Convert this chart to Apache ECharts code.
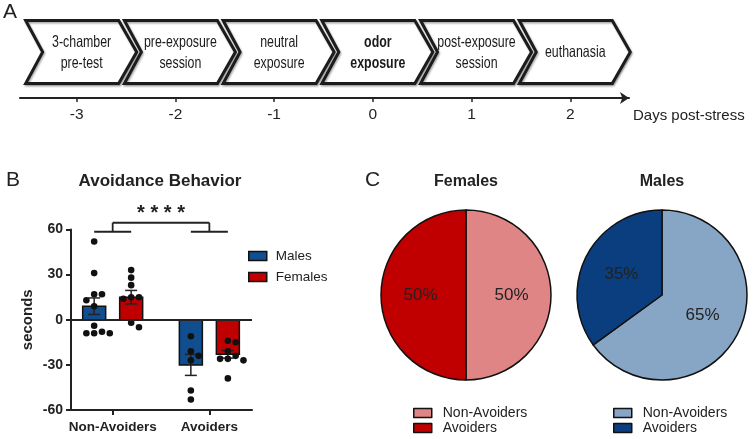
<!DOCTYPE html>
<html><head><meta charset="utf-8">
<script src="https://cdn.jsdelivr.net/npm/echarts@6/dist/echarts.min.js"></script>
<style>html,body{margin:0;padding:0;background:#fff}#c{width:756px;height:439px}</style>
</head><body><div id="c"></div>
<script>
// ---------- Panel A data ----------
const stageDays = [-3, -2, -1, 0, 1, 2];
const stageLabels = ['3-chamber\npre-test', 'pre-exposure\nsession', 'neutral\nexposure', 'odor\nexposure', 'post-exposure\nsession', 'euthanasia'];
const stageBold = [false, false, false, true, false, false];
const dayTicks = [-3, -2, -1, 0, 1, 2];
const dayAxisName = 'Days post-stress';

// ---------- Panel B data ----------
const groups = ['Non-Avoiders', 'Avoiders'];
const sexes = ['Males', 'Females'];
const maleMeans = [9, -30];
const maleSem = [5.5, 7];
const femaleMeans = [15, -23];
const femaleSem = [4.5, 2.5];
const maleNonAvoiderDots = [52, 31, 17, 17, 13, 9, -4, -8, -9, -9, -9];
const maleAvoiderDots = [-11, -21, -24, -27, -47, -53];
const femaleNonAvoiderDots = [33, 28, 23, 15, 15, 14, -2, -5];
const femaleAvoiderDots = [-14, -15, -21, -24, -26, -26, -27, -39];
const yTickMin = -60, yTickMax = 60, yTickStep = 30;
const sigLabel = '* * * *';

// ---------- Panel C data ----------
const pieCategories = ['Non-Avoiders', 'Avoiders'];
const femalePie = [50, 50];
const malePie = [65, 35];

// ---------- styles / layout ----------
const FONT = "'Liberation Sans', Arial, sans-serif";
const INK = '#222';
const MALE_BAR = '#104e8f', FEMALE_BAR = '#c00000';
const FEMALE_PIE_COLORS = ['#e08585', '#c00000'];
const MALE_PIE_COLORS = ['#87a5c5', '#0b3e7e'];
const BAR_OFF = 18.5, BAR_W = 23, CAP_W = 12, DOT_R = 3.3;

const dotsBySex = [[maleNonAvoiderDots, maleAvoiderDots], [femaleNonAvoiderDots, femaleAvoiderDots]];

function swarm(ys) {
  const placed = [];
  const s = DOT_R + 0.6;
  return ys.map(y => {
    let off = 0;
    for (let k = 0; k < 30; k++) {
      const cand = k === 0 ? 0 : (k % 2 ? 1 : -1) * Math.ceil(k / 2) * s;
      const hit = placed.some(p => Math.hypot(p[0] - cand, p[1] - y) < 2 * DOT_R + 0.8);
      if (!hit) { off = cand; break; }
    }
    placed.push([off, y]);
    return off;
  });
}

function barRender(sexIdx, color) {
  return function (params, api) {
    const cat = api.value(0), mean = api.value(1), sem = api.value(2);
    const p0 = api.coord([cat, 0]);
    const p1 = api.coord([cat, mean]);
    const cx = p0[0] + (sexIdx === 0 ? -BAR_OFF : BAR_OFF);
    const ch = [];
    ch.push({ type: 'rect', shape: { x: cx - BAR_W / 2, y: Math.min(p0[1], p1[1]), width: BAR_W, height: Math.abs(p1[1] - p0[1]) },
      style: { fill: color, stroke: '#111', lineWidth: 1.5 } });
    const eLo = api.coord([cat, mean - sem])[1], eHi = api.coord([cat, mean + sem])[1];
    const ls = { stroke: INK, lineWidth: 1.5 };
    ch.push({ type: 'line', shape: { x1: cx, y1: eLo, x2: cx, y2: eHi }, style: ls });
    ch.push({ type: 'line', shape: { x1: cx - CAP_W / 2, y1: eLo, x2: cx + CAP_W / 2, y2: eLo }, style: ls });
    ch.push({ type: 'line', shape: { x1: cx - CAP_W / 2, y1: eHi, x2: cx + CAP_W / 2, y2: eHi }, style: ls });
    const vals = dotsBySex[sexIdx][params.dataIndex];
    const ys = vals.map(v => api.coord([cat, v])[1]);
    const offs = swarm(ys);
    ys.forEach((y, i) => ch.push({ type: 'circle', shape: { cx: cx + offs[i], cy: y, r: DOT_R }, style: { fill: '#111' } }));
    return { type: 'group', children: ch };
  };
}

const chart = echarts.init(document.getElementById('c'), null, { renderer: 'canvas' });
const titleStyle = (size, weight) => ({ fontSize: size, fontWeight: weight, color: INK, fontFamily: FONT });

const option = {
  animation: false,
  textStyle: { fontFamily: FONT },
  title: [
    { text: 'A', left: 3, top: 2, padding: 0, textStyle: titleStyle(21, 'normal') },
    { text: 'B', left: 6, top: 170, padding: 0, textStyle: titleStyle(21, 'normal') },
    { text: 'Avoidance Behavior', left: 160, top: 173, textAlign: 'center', padding: 0, textStyle: titleStyle(17, 'bold') },
    { text: 'C', left: 365, top: 170, padding: 0, textStyle: titleStyle(21, 'normal') },
    { text: 'Females', left: 466, top: 174, textAlign: 'center', padding: 0, textStyle: titleStyle(16, 'bold') },
    { text: 'Males', left: 662, top: 174, textAlign: 'center', padding: 0, textStyle: titleStyle(16, 'bold') }
  ],
  legend: [
    { data: [{ name: 'Males', itemStyle: { color: MALE_BAR } }, { name: 'Females', itemStyle: { color: FEMALE_BAR } }],
      orient: 'vertical', left: 248, top: 249, padding: 0, itemWidth: 18, itemHeight: 9, itemGap: 7, icon: 'rect',
      selectedMode: false, itemStyle: { borderColor: '#111', borderWidth: 1.5 },
      textStyle: { fontSize: 13.5, color: INK, padding: [0, 0, 0, 4] } },
    { data: [{ name: 'Non-Avoiders', itemStyle: { color: FEMALE_PIE_COLORS[0] } }, { name: 'Avoiders', itemStyle: { color: FEMALE_PIE_COLORS[1] } }],
      orient: 'vertical', left: 413, top: 406, padding: 0, itemWidth: 18, itemHeight: 9, itemGap: 1, icon: 'rect',
      selectedMode: false, itemStyle: { borderColor: '#111', borderWidth: 1.5 },
      textStyle: { fontSize: 14, color: INK, padding: [0, 0, 0, 6] } },
    { data: [{ name: 'Non-Avoiders', itemStyle: { color: MALE_PIE_COLORS[0] } }, { name: 'Avoiders', itemStyle: { color: MALE_PIE_COLORS[1] } }],
      orient: 'vertical', left: 613, top: 406, padding: 0, itemWidth: 18, itemHeight: 9, itemGap: 1, icon: 'rect',
      selectedMode: false, itemStyle: { borderColor: '#111', borderWidth: 1.5 },
      textStyle: { fontSize: 14, color: INK, padding: [0, 0, 0, 6] } }
  ],
  grid: [
    { left: 20, top: 20, width: 609, height: 78 },
    { left: 71, top: 229.5, width: 181, height: 180.5 }
  ],
  xAxis: [
    { gridIndex: 0, type: 'value', min: -3.574, max: 2.595,
      axisLine: { show: true, onZero: false, lineStyle: { color: INK, width: 2 }, symbol: ['none', 'arrow'], symbolSize: [9, 9] },
      axisTick: { show: true, customValues: dayTicks, length: 4, lineStyle: { color: INK, width: 1.5 } },
      axisLabel: { customValues: dayTicks, fontSize: 15.5, color: INK, margin: 9 },
      splitLine: { show: false },
      name: dayAxisName, nameLocation: 'end', nameGap: 4,
      nameTextStyle: { fontSize: 15, color: INK, align: 'left', verticalAlign: 'top', padding: [10, 0, 0, 0] } },
    { gridIndex: 1, type: 'value', min: -0.431, max: 1.441,
      axisLine: { show: true, onZero: false, lineStyle: { color: INK, width: 2 } },
      axisTick: { show: true, customValues: [0, 1], length: 5, lineStyle: { color: INK, width: 2 } },
      axisLabel: { customValues: [0, 1], formatter: v => groups[Math.round(v)], fontSize: 13.5, fontWeight: 'bold', color: INK, margin: 10 },
      splitLine: { show: false } }
  ],
  yAxis: [
    { gridIndex: 0, type: 'value', min: 0, max: 1, show: false },
    { gridIndex: 1, type: 'value', min: yTickMin, max: yTickMax, interval: yTickStep,
      axisLine: { show: true, onZero: false, lineStyle: { color: INK, width: 2 } },
      axisTick: { show: true, length: 5, lineStyle: { color: INK, width: 2 } },
      axisLabel: { fontSize: 14, fontWeight: 'bold', color: INK, margin: 8 },
      splitLine: { show: false },
      name: 'seconds', nameLocation: 'middle', nameGap: 36,
      nameTextStyle: { fontSize: 15, fontWeight: 'bold', color: INK } }
  ],
  series: [
    { type: 'custom', name: 'stages', xAxisIndex: 0, yAxisIndex: 0, silent: true, clip: false,
      data: stageDays.map((d, i) => [d, i]),
      renderItem: (params, api) => {
        const i = api.value(1);
        const base = api.coord([api.value(0), 0]);
        const cx = base[0];
        const top = base[1] - 77.5, bot = base[1] - 14.5, mid = (top + bot) / 2;
        const pts = [[cx - 51, top], [cx + 42, top], [cx + 60, mid], [cx + 42, bot], [cx - 51, bot], [cx - 34, mid]];
        return { type: 'group', children: [
          { type: 'polygon', shape: { points: pts },
            style: { fill: '#fff', stroke: '#1c1c1c', lineWidth: 3, lineJoin: 'miter', shadowBlur: 2, shadowColor: 'rgba(0,0,0,0.35)', shadowOffsetX: 1, shadowOffsetY: 1.5 } },
          { type: 'text', x: cx + 5, y: mid + 0.5, scaleX: 0.75,
            style: { text: stageLabels[i], align: 'center', verticalAlign: 'middle', fontFamily: FONT, fontSize: 16.5,
              fontWeight: stageBold[i] ? 'bold' : 'normal', lineHeight: 21, fill: '#1a1a1a' } }
        ] };
      } },
    { type: 'custom', name: 'Males', xAxisIndex: 1, yAxisIndex: 1, silent: true, clip: false,
      itemStyle: { color: MALE_BAR },
      data: groups.map((g, i) => [i, maleMeans[i], maleSem[i]]),
      renderItem: barRender(0, MALE_BAR),
      markLine: { silent: true, symbol: 'none', label: { show: false }, lineStyle: { color: INK, width: 2, type: 'solid' }, data: [{ yAxis: 0 }] } },
    { type: 'custom', name: 'Females', xAxisIndex: 1, yAxisIndex: 1, silent: true, clip: false,
      itemStyle: { color: FEMALE_BAR },
      data: groups.map((g, i) => [i, femaleMeans[i], femaleSem[i]]),
      renderItem: barRender(1, FEMALE_BAR) },
    { type: 'custom', name: 'significance', xAxisIndex: 1, yAxisIndex: 1, silent: true, clip: false,
      data: [[0, 1]],
      renderItem: (params, api) => {
        const g0 = api.value(0), g1 = api.value(1);
        const yLow = api.coord([g0, 58.5])[1], yTop = api.coord([g0, 64.5])[1];
        const ls = { stroke: INK, lineWidth: 1.8 };
        const ch = [];
        const xs = [g0, g1].map(g => api.coord([g, 0])[0]);
        xs.forEach(x => {
          ch.push({ type: 'line', shape: { x1: x - BAR_OFF, y1: yLow, x2: x + BAR_OFF, y2: yLow }, style: ls });
          ch.push({ type: 'line', shape: { x1: x, y1: yLow, x2: x, y2: yTop }, style: ls });
        });
        ch.push({ type: 'line', shape: { x1: xs[0], y1: yTop, x2: xs[1], y2: yTop }, style: ls });
        ch.push({ type: 'text', x: (xs[0] + xs[1]) / 2, y: api.coord([g0, 70.5])[1],
          style: { text: sigLabel, align: 'center', verticalAlign: 'middle', fontFamily: FONT, fontSize: 20, fontWeight: 'bold', fill: INK } });
        return { type: 'group', children: ch };
      } },
    { type: 'pie', name: 'Females pie', center: [466, 295], radius: 85, startAngle: 90, clockwise: true, silent: true,
      data: pieCategories.map((n, i) => ({ name: n, value: femalePie[i], itemStyle: { color: FEMALE_PIE_COLORS[i] } })),
      label: { position: 'inside', formatter: '{c}%', fontSize: 17, color: INK, fontFamily: FONT },
      labelLine: { show: false }, itemStyle: { borderColor: '#111', borderWidth: 1.5 }, emphasis: { disabled: true } },
    { type: 'pie', name: 'Males pie', center: [662, 295], radius: 85, startAngle: 90, clockwise: true, silent: true,
      data: pieCategories.map((n, i) => ({ name: n, value: malePie[i], itemStyle: { color: MALE_PIE_COLORS[i] } })),
      label: { position: 'inside', formatter: '{c}%', fontSize: 17, color: INK, fontFamily: FONT },
      labelLine: { show: false }, itemStyle: { borderColor: '#111', borderWidth: 1.5 }, emphasis: { disabled: true } }
  ]
};
chart.setOption(option);
</script>
</body></html>
